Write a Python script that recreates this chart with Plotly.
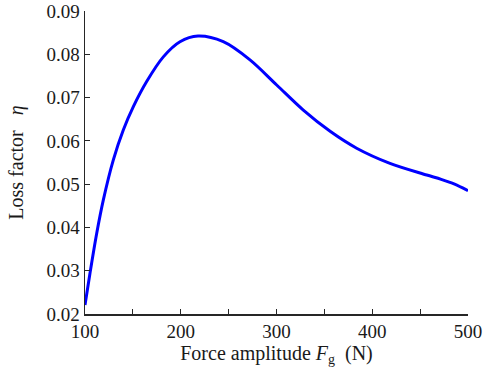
import plotly.graph_objects as go

force = [100, 105.2, 112.2, 119.1, 129.6, 140, 150.5, 164.4, 181.8, 199.2, 218,
         244.4, 272.3, 300.2, 328, 356, 383.7, 418.5, 456.9, 472, 486, 500]
loss = [0.0221, 0.0294, 0.0386, 0.0463, 0.0556, 0.0625, 0.0679, 0.0737, 0.0794, 0.0829, 0.0842,
        0.0829, 0.0787, 0.0729, 0.0671, 0.0622, 0.0583, 0.0548, 0.0521, 0.0511, 0.0500, 0.0485]

x_ticks = [100, 150, 200, 250, 300, 350, 400, 450, 500]
x_ticklabels = ["100", "", "200", "", "300", "", "400", "", "500"]
y_ticks = [0.02, 0.03, 0.04, 0.05, 0.06, 0.07, 0.08, 0.09]
y_ticklabels = ["0.02", "0.03", "0.04", "0.05", "0.06", "0.07", "0.08", "0.09"]

font_family = "Liberation Serif, Times New Roman, serif"
axis_color = "#262626"

fig = go.Figure()
fig.add_trace(go.Scatter(x=force, y=loss, mode="lines",
                         line=dict(color="#0000FF", width=3, shape="spline", smoothing=0.9),
                         showlegend=False, hoverinfo="skip"))

fig.update_layout(
    width=493, height=374,
    margin=dict(l=85, r=25, t=11, b=60),
    paper_bgcolor="white", plot_bgcolor="white",
    font=dict(family=font_family, size=19, color="#1a1a1a"),
    xaxis=dict(range=[100, 500], tickvals=x_ticks, ticktext=x_ticklabels,
               ticks="inside", ticklen=5, tickwidth=1, tickcolor=axis_color,
               showline=True, linecolor=axis_color, linewidth=1.5,
               showgrid=False, zeroline=False, automargin=False,
               title=dict(text="Force amplitude <i>F</i><sub>g</sub>  (N)", standoff=2,
                          font=dict(size=20))),
    yaxis=dict(range=[0.02, 0.09], tickvals=y_ticks, ticktext=y_ticklabels,
               ticks="inside", ticklen=5, tickwidth=1, tickcolor=axis_color,
               showline=True, linecolor=axis_color, linewidth=1.5,
               showgrid=False, zeroline=False, automargin=False,
               title=dict(text="Loss factor\u00a0\u00a0\u00a0<i>η</i>", standoff=17,
                          font=dict(size=20))),
)

fig.write_html("out.html", config={"displayModeBar": False, "staticPlot": True},
               post_script="document.body.style.margin='0';document.body.style.overflow='hidden';")
